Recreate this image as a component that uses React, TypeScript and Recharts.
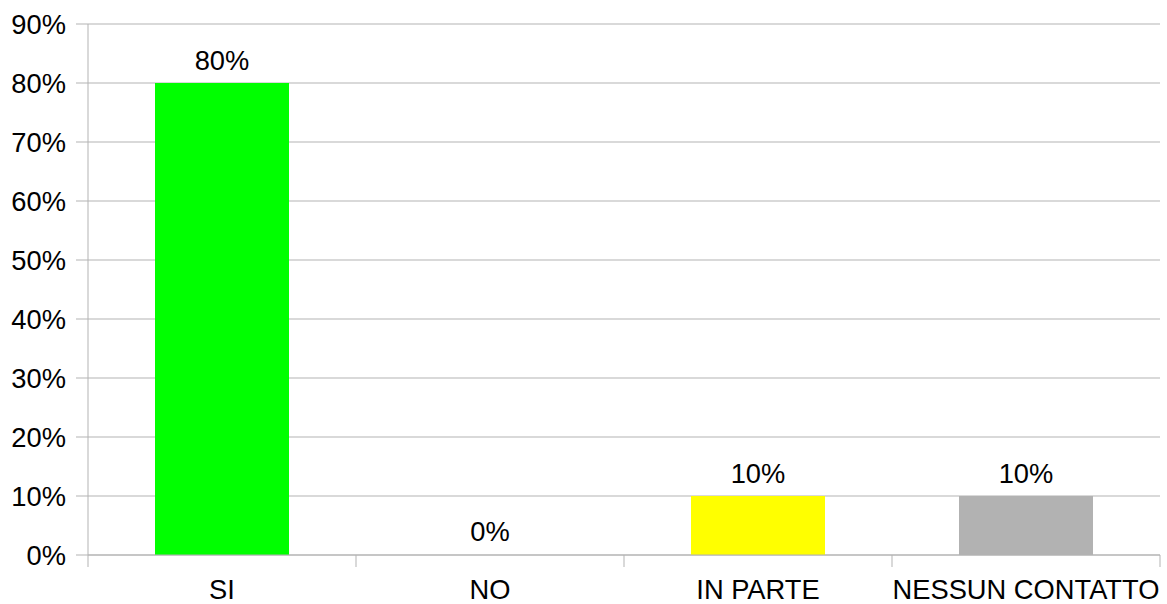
import { Bar, BarChart, CartesianGrid, Cell, XAxis, YAxis } from "recharts"

const CATEGORIES = ["SI", "NO", "IN PARTE", "NESSUN CONTATTO"]
const VALUES = [80, 0, 10, 10]
const COLORS = ["#00ff00", "transparent", "#ffff00", "#b2b2b2"]
const Y_TICKS = [0, 10, 20, 30, 40, 50, 60, 70, 80, 90]

const FONT = "'Liberation Sans', Arial, sans-serif"
const FONT_SIZE = 27.3
const GRID = "#b3b3b3"

const data = CATEGORIES.map((name, i) => ({ name, value: VALUES[i] }))

function CategoryTick(props: any) {
  const { x, y, payload, index, visibleTicksCount } = props
  const half = payload?.offset ?? 134
  const last = index === visibleTicksCount - 1
  return (
    <g>
      <line x1={x - half} x2={x - half} y1={y} y2={y + 12} stroke={GRID} />
      {last && <line x1={x + half} x2={x + half} y1={y} y2={y + 12} stroke={GRID} />}
      <text x={x} y={y + 44} textAnchor="middle" fill="#000" fontSize={FONT_SIZE} fontFamily={FONT}>
        {payload.value}
      </text>
    </g>
  )
}

function ValueLabel(props: any) {
  const { x, y, width, value } = props
  return (
    <text
      x={Number(x) + Number(width) / 2}
      y={Number(y) - 13}
      textAnchor="middle"
      fill="#000"
      fontSize={FONT_SIZE}
      fontFamily={FONT}
    >
      {`${value}%`}
    </text>
  )
}

export default function App() {
  return (
    <div style={{ position: "absolute", left: 0, top: 0, background: "#fff" }}>
      <BarChart
        width={1167}
        height={604}
        data={data}
        margin={{ top: 24, right: 7, left: 0, bottom: 0 }}
        barCategoryGap="25%"
      >
        <CartesianGrid vertical={false} stroke={GRID} />
        <XAxis
          dataKey="name"
          height={49}
          axisLine={{ stroke: GRID }}
          tickLine={false}
          tickSize={0}
          tickMargin={0}
          interval={0}
          tick={<CategoryTick />}
        />
        <YAxis
          width={88}
          domain={[0, 90]}
          ticks={Y_TICKS}
          interval={0}
          axisLine={{ stroke: GRID }}
          tickLine={{ stroke: GRID }}
          tickSize={12}
          tickMargin={10}
          tickFormatter={(v) => `${v}%`}
          tick={{ fill: "#000", fontSize: FONT_SIZE, fontFamily: FONT }}
        />
        <Bar dataKey="value" isAnimationActive={false} minPointSize={1} label={<ValueLabel />}>
          {data.map((d, i) => (
            <Cell key={d.name} fill={COLORS[i]} />
          ))}
        </Bar>
      </BarChart>
    </div>
  )
}
